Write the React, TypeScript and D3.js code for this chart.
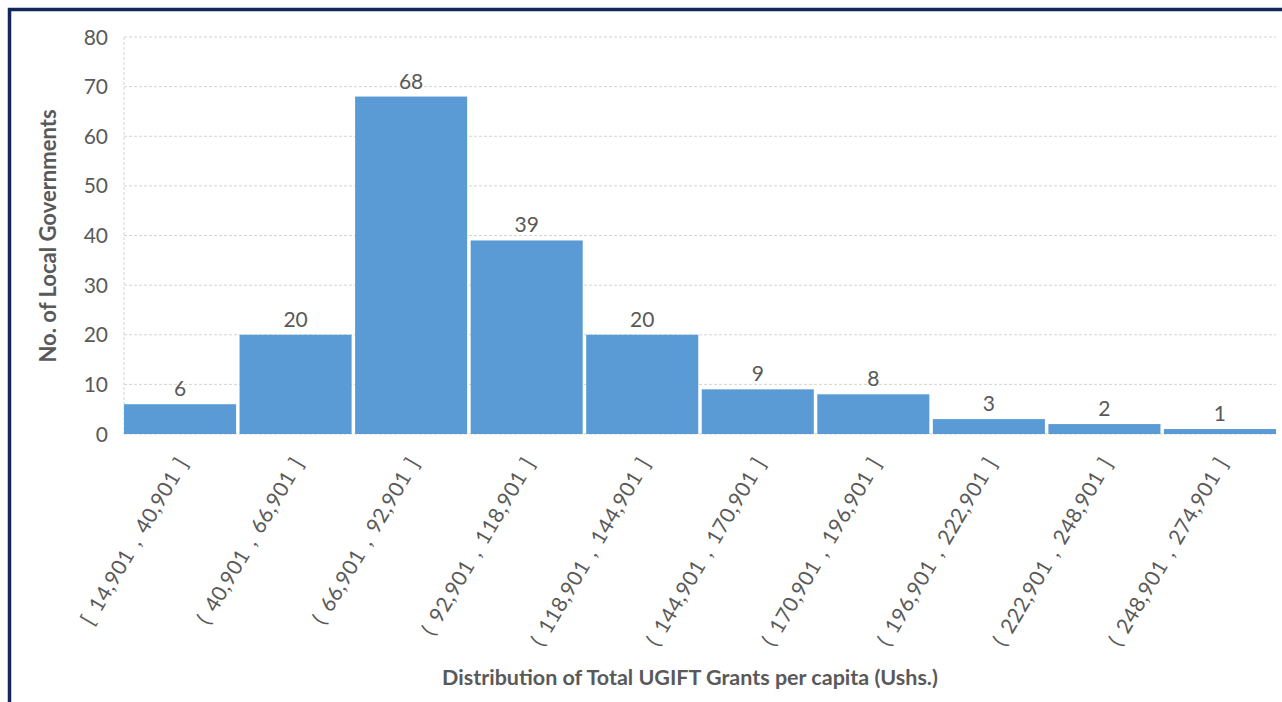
import React from "react";
import * as d3 from "d3";

// Histogram of total UGIFT grants per capita across local governments
const binLabels: string[] = [
  "[ 14,901 , 40,901 ]",
  "( 40,901 , 66,901 ]",
  "( 66,901 , 92,901 ]",
  "( 92,901 , 118,901 ]",
  "( 118,901 , 144,901 ]",
  "( 144,901 , 170,901 ]",
  "( 170,901 , 196,901 ]",
  "( 196,901 , 222,901 ]",
  "( 222,901 , 248,901 ]",
  "( 248,901 , 274,901 ]",
];
const counts: number[] = [6, 20, 68, 39, 20, 9, 8, 3, 2, 1];
const yTicks: number[] = [0, 10, 20, 30, 40, 50, 60, 70, 80];

const yTitle = "No. of Local Governments";
const xTitle = "Distribution of Total UGIFT Grants per capita (Ushs.)";

const W = 1282;
const H = 702;
const plot = { left: 124, right: 1276, top: 37, bottom: 434 };

const FONT = "Lato, 'Open Sans', sans-serif";
const TEXT = "#595959";
const BAR = "#5b9bd5";
const GRID = "#d4d4d4";

export default function App() {
  const x = d3
    .scaleBand<string>()
    .domain(binLabels)
    .range([plot.left, plot.right])
    .paddingInner(0.03)
    .paddingOuter(0.0);
  const y = d3.scaleLinear().domain([0, 80]).range([plot.bottom, plot.top]);

  const rows = binLabels.map((label, i) => ({ label, value: counts[i] }));

  return (
    <svg
      width={W}
      height={H}
      style={{ position: "absolute", left: 0, top: 0, background: "#fff" }}
      fontFamily={FONT}
    >
      {/* frame */}
      <rect x={0} y={0} width={W} height={H} fill="#fff" />
      <rect
        x={9.5}
        y={9.5}
        width={W + 40}
        height={H + 40}
        fill="none"
        stroke="#13275a"
        strokeWidth={3.5}
      />

      {/* gridlines */}
      {yTicks.map((t) => (
        <line
          key={`g${t}`}
          x1={plot.left}
          x2={plot.right}
          y1={y(t)}
          y2={y(t)}
          stroke={GRID}
          strokeWidth={1}
          strokeDasharray="3,2"
        />
      ))}
      <line
        x1={plot.left}
        x2={plot.left}
        y1={y(80)}
        y2={y(0)}
        stroke={GRID}
        strokeWidth={1}
        strokeDasharray="3,2"
      />

      {/* y tick labels */}
      {yTicks.map((t) => (
        <text
          key={`t${t}`}
          x={108}
          y={y(t)}
          dy="0.36em"
          textAnchor="end"
          fontSize={21}
          fill={TEXT}
        >
          {t}
        </text>
      ))}

      {/* bars */}
      {rows.map((d) => (
        <rect
          key={`b${d.label}`}
          x={x(d.label)!}
          y={y(d.value)}
          width={x.bandwidth()}
          height={y(0) - y(d.value)}
          fill={BAR}
        />
      ))}

      {/* value labels */}
      {rows.map((d) => (
        <text
          key={`v${d.label}`}
          x={x(d.label)! + x.bandwidth() / 2}
          y={y(d.value) - 8}
          textAnchor="middle"
          fontSize={21}
          fill={TEXT}
        >
          {d.value}
        </text>
      ))}

      {/* category labels */}
      {rows.map((d) => {
        const cx = x(d.label)! + x.bandwidth() / 2 + 9;
        const cy = 463;
        return (
          <text
            key={`c${d.label}`}
            transform={`translate(${cx},${cy}) rotate(-59.5)`}
            textAnchor="end"
            fontSize={21}
            fill={TEXT}
            letterSpacing={0.4}
            wordSpacing={3}
            style={{ whiteSpace: "pre" }}
          >
            {d.label}
          </text>
        );
      })}

      {/* axis titles */}
      <text
        transform={`translate(56,236) rotate(-90)`}
        textAnchor="middle"
        fontSize={22}
        fontWeight="bold"
        fill={TEXT}
      >
        {yTitle}
      </text>
      <text
        x={690}
        y={685}
        textAnchor="middle"
        fontSize={21.5}
        fontWeight="bold"
        fill={TEXT}
      >
        {xTitle}
      </text>
    </svg>
  );
}
